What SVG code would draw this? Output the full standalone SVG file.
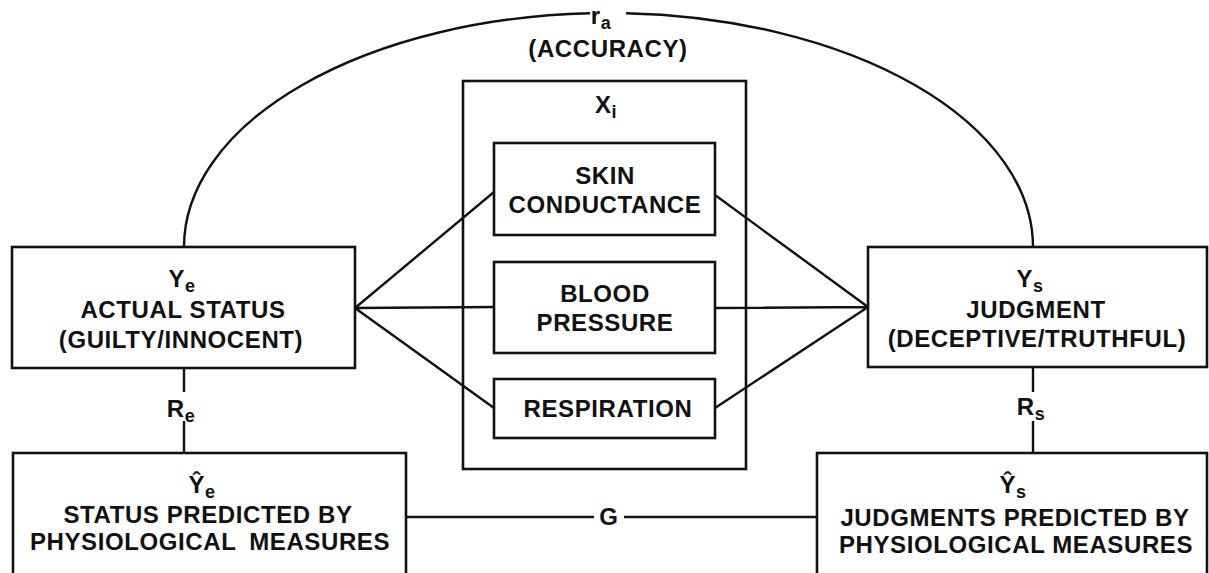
<svg xmlns="http://www.w3.org/2000/svg" width="1209" height="573" viewBox="0 0 1209 573">
<style>
.box{fill:none;stroke:#111;stroke-width:2.6}
.ln{fill:none;stroke:#111;stroke-width:2.4}
text{font-family:"Liberation Sans",Arial,sans-serif;font-weight:bold;font-size:24px;fill:#111;text-anchor:middle;letter-spacing:0.6px}
.sub{font-size:18px}
</style>
<rect width="1209" height="573" fill="#fff"/>
<g id="connectors">
<path class="ln" d="M184,247 A424.5,234 0 0 1 590,13.2"/>
<path class="ln" d="M626,13.2 A424.5,234 0 0 1 1033,247"/>
<path class="ln" d="M355,308 L494,192 M355,308 L494,307 M355,308 L494,408"/>
<path class="ln" d="M868,307 L715,195 M868,307 L715,308 M868,307 L715,408"/>
<path class="ln" d="M184,368 V392 M184,421 V453"/>
<path class="ln" d="M1033,367 V392 M1033,421 V453"/>
<path class="ln" d="M406,517 H594 M624,517 H817"/>
<text x="601" y="24">r<tspan class="sub" dy="5">a</tspan></text>
<text x="608" y="57">(ACCURACY)</text>
<text x="181" y="417">R<tspan class="sub" dy="5">e</tspan></text>
<text x="1031" y="415">R<tspan class="sub" dy="5">s</tspan></text>
<text x="609" y="525">G</text>
</g>
<g id="node-xi">
<rect class="box" x="463" y="81" width="283" height="388"/>
<text x="606" y="113">X<tspan class="sub" dy="5">i</tspan></text>
</g>
<g id="node-skin">
<rect class="box" x="494" y="143" width="221" height="92"/>
<text x="605" y="184">SKIN</text>
<text x="605" y="213">CONDUCTANCE</text>
</g>
<g id="node-blood">
<rect class="box" x="494" y="262" width="221" height="91"/>
<text x="605" y="302">BLOOD</text>
<text x="605" y="331">PRESSURE</text>
</g>
<g id="node-resp">
<rect class="box" x="494" y="379" width="221" height="59"/>
<text x="608" y="417">RESPIRATION</text>
</g>
<g id="node-ye">
<rect class="box" x="12" y="247" width="343" height="121"/>
<text x="182" y="287">Y<tspan class="sub" dy="5">e</tspan></text>
<text x="183" y="318">ACTUAL STATUS</text>
<text x="181" y="348">(GUILTY/INNOCENT)</text>
</g>
<g id="node-ys">
<rect class="box" x="868" y="247" width="339" height="120"/>
<text x="1030" y="287">Y<tspan class="sub" dy="5">s</tspan></text>
<text x="1036" y="318">JUDGMENT</text>
<text x="1037" y="347">(DECEPTIVE/TRUTHFUL)</text>
</g>
<g id="node-ye-hat">
<rect class="box" x="13" y="453" width="393" height="140"/>
<text x="202" y="493">Ŷ<tspan class="sub" dy="5">e</tspan></text>
<text x="208" y="523">STATUS PREDICTED BY</text>
<text x="210" y="550" style="word-spacing:6px">PHYSIOLOGICAL MEASURES</text>
</g>
<g id="node-ys-hat">
<rect class="box" x="817" y="453" width="390" height="140"/>
<text x="1013" y="493">Ŷ<tspan class="sub" dy="5">s</tspan></text>
<text x="1015" y="526">JUDGMENTS PREDICTED BY</text>
<text x="1016" y="553">PHYSIOLOGICAL MEASURES</text>
</g>
</svg>
